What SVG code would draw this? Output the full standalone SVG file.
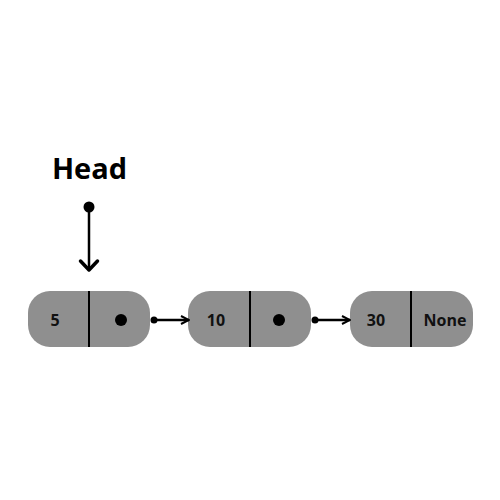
<svg xmlns="http://www.w3.org/2000/svg" width="500" height="500" viewBox="0 0 500 500">
<style>
.box{fill:#8f8f8f;}
.div{stroke:#000;stroke-width:2;}
.lbl{font-family:"Open Sans","Noto Sans",sans-serif;font-weight:bold;font-size:16px;fill:#111;text-anchor:middle;dominant-baseline:central;}
.conn{stroke:#000;stroke-width:2.5;fill:none;}
</style>
<defs>
<marker id="arr" viewBox="0 0 10 10" refX="9" refY="5" markerWidth="4" markerHeight="4" orient="auto" markerUnits="strokeWidth">
<path d="M1,1 L9,5 L1,9" fill="none" stroke="#000" stroke-width="2"/>
</marker>
</defs>
<rect width="500" height="500" fill="#fff"/>
<g id="head">
<text x="89.5" y="179" style="font-family:'Open Sans','Noto Sans',sans-serif;font-weight:bold;font-size:29px;fill:#000;text-anchor:middle">Head</text>
</g>
<g id="node1">
<rect class="box" x="28" y="291" width="122" height="56" rx="22"/>
<line class="div" x1="89" y1="291" x2="89" y2="347"/>
<text class="lbl" x="55" y="320">5</text>
<circle cx="121" cy="320" r="6" fill="#000"/>
</g>
<g id="node2">
<rect class="box" x="188" y="291" width="123" height="56" rx="22"/>
<line class="div" x1="250" y1="291" x2="250" y2="347"/>
<text class="lbl" x="216" y="320">10</text>
<circle cx="279" cy="320" r="6" fill="#000"/>
</g>
<g id="node3">
<rect class="box" x="350" y="291" width="123" height="56" rx="22"/>
<line class="div" x1="411" y1="291" x2="411" y2="347"/>
<text class="lbl" x="376" y="320">30</text>
<text class="lbl" x="445" y="320">None</text>
</g>
<g id="connectors">
<circle cx="89" cy="207" r="5.5" fill="#000"/>
<line class="conn" x1="89" y1="207" x2="89" y2="270" stroke-width="3.5"/>
<path d="M80.5,261 L89,270 L97.5,261" fill="none" stroke="#000" stroke-width="3.5" stroke-linecap="round" stroke-linejoin="round"/>
<circle cx="154" cy="320" r="3.5" fill="#000"/>
<line class="conn" x1="154" y1="320" x2="189" y2="320" stroke-width="2" marker-end="url(#arr)"/>
<circle cx="315" cy="320" r="3.5" fill="#000"/>
<line class="conn" x1="315" y1="320" x2="350" y2="320" stroke-width="2" marker-end="url(#arr)"/>
</g>
</svg>
